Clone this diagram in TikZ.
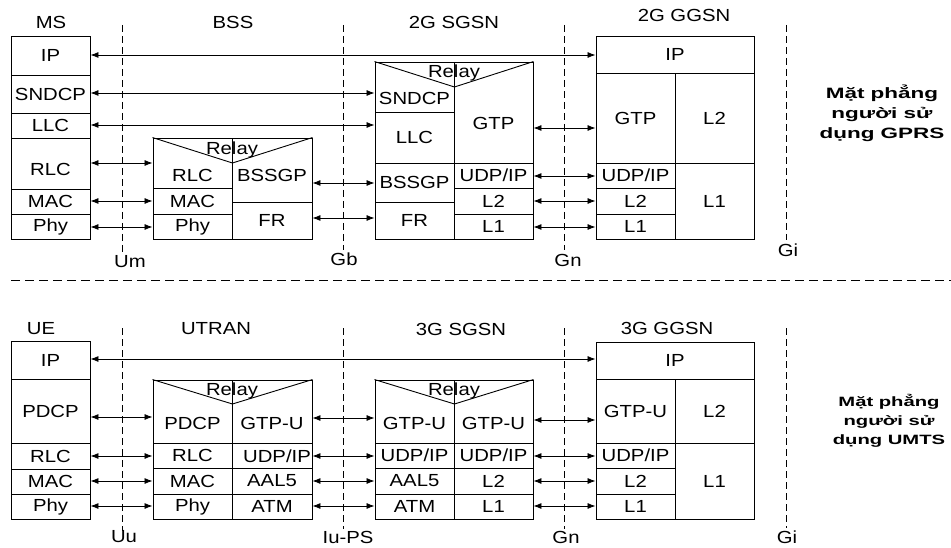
\documentclass[tikz,border=0pt]{standalone}
\usepackage{fontspec}
\setmainfont{Liberation Sans}[FakeStretch=1.16]
\newfontfamily\sidefont{Liberation Sans}[FakeStretch=1.5]
\usetikzlibrary{arrows.meta}
\newcommand{\cellbox}[6]{\node[cell, minimum width={#4-#2}, minimum height={#5-#3}] (#1) at ({(#2+#4)/2},{(#3+#5)/2}) {#6};}
\begin{document}
\begin{tikzpicture}[x=1pt,y=-1pt, line width=0.9pt,
  txt/.style={font=\fontsize{17.5}{20}\selectfont, inner sep=0pt},
  cell/.style={draw, txt, anchor=center},
  conn/.style={{Latex[length=8pt,width=6pt]}-{Latex[length=8pt,width=6pt]}, line width=0.8pt},
  iface/.style={dash pattern=on 7pt off 4pt, line width=0.7pt},
  sepline/.style={dash pattern=on 9pt off 5pt, line width=0.8pt},
  side/.style={font=\sidefont\bfseries\fontsize{15}{20}\selectfont, align=center, inner sep=0pt},
  sideb/.style={font=\sidefont\bfseries\fontsize{13.5}{19}\selectfont, align=center, inner sep=0pt}
]
\useasboundingbox (0,0) rectangle (951,548);

% ---------- interface lines (top) ----------
\coordinate (umt) at (122,25);  \coordinate (umb) at (122,252);
\coordinate (gbt) at (343,25);  \coordinate (gbb) at (343,250);
\coordinate (gnt) at (564,25);  \coordinate (gnb) at (564,250);
\coordinate (git) at (786,25);  \coordinate (gib) at (786,240);
\draw[iface] (umt) -- (umb);
\draw[iface] (gbt) -- (gbb);
\draw[iface] (gnt) -- (gnb);
\draw[iface] (git) -- (gib);
\node[txt] (lum) at (130,262) {Um};
\node[txt] (lgb) at (344,259) {Gb};
\node[txt] (lgn) at (568,260) {Gn};
\node[txt] (lgi) at (788,250) {Gi};

% ---------- separator ----------
\coordinate (sepl) at (11,280); \coordinate (sepr) at (951,280);
\draw[sepline] (sepl) -- (sepr);

% ---------- interface lines (bottom) ----------
\coordinate (uut) at (122,328);  \coordinate (uub) at (122,531);
\coordinate (iut) at (343,328);  \coordinate (iub) at (343,529);
\coordinate (gn2t) at (564,328); \coordinate (gn2b) at (564,529);
\coordinate (gi2t) at (786,328); \coordinate (gi2b) at (786,528);
\draw[iface] (uut) -- (uub);
\draw[iface] (iut) -- (iub);
\draw[iface] (gn2t) -- (gn2b);
\draw[iface] (gi2t) -- (gi2b);
\node[txt] (luu) at (124,537) {Uu};
\node[txt] (liu) at (348,537) {Iu-PS};
\node[txt] (lgn2) at (566,537) {Gn};
\node[txt] (lgi2) at (787,537) {Gi};

% ---------- titles ----------
\node[txt] (tms) at (51,22) {MS};
\node[txt] (tbss) at (233,22) {BSS};
\node[txt] (tsg2) at (454,22) {2G SGSN};
\node[txt] (tgg2) at (684,15) {2G GGSN};
\node[txt] (tue) at (41,329) {UE};
\node[txt] (tut) at (216,329) {UTRAN};
\node[txt] (tsg3) at (461,329) {3G SGSN};
\node[txt] (tgg3) at (667,328) {3G GGSN};

% ---------- MS ----------
\cellbox{msip}{11}{36}{90}{75}{IP}
\cellbox{mssn}{11}{75}{90}{113}{SNDCP}
\cellbox{msllc}{11}{113}{90}{138}{LLC}
\cellbox{msrlc}{11}{138}{90}{189}{}
\cellbox{msmac}{11}{189}{90}{214}{MAC}
\cellbox{msphy}{11}{214}{90}{239}{Phy}
\node[txt] (msrlct) at (50.5,169) {RLC};

% ---------- BSS ----------
\cellbox{bssrlc}{153}{138}{232}{188}{}
\cellbox{bssmac}{153}{188}{232}{214}{MAC}
\cellbox{bssphy}{153}{214}{232}{239}{Phy}
\cellbox{bssgp}{232}{138}{312}{202}{}
\cellbox{bssfr}{232}{202}{312}{239}{FR}
\draw (bssrlc.north west) -- (bssrlc.east |- 0,163) -- (bssgp.north east);
\node[txt] (bssrelay) at (232,150) {Relay};
\node[txt] (bssrlct) at (192.5,175) {RLC};
\node[txt] (bssgpt) at (272,175) {BSSGP};

% ---------- 2G SGSN ----------
\cellbox{sgsn}{375}{62}{454}{112}{}
\cellbox{sgllc}{375}{112}{454}{163}{LLC}
\cellbox{sgbssgp}{375}{163}{454}{202}{BSSGP}
\cellbox{sgfr}{375}{202}{454}{239}{FR}
\cellbox{sggtp}{454}{62}{533}{163}{}
\cellbox{sgudp}{454}{163}{533}{188}{UDP/IP}
\cellbox{sgl2}{454}{188}{533}{214}{L2}
\cellbox{sgl1}{454}{214}{533}{239}{L1}
\draw (sgsn.north west) -- (sgsn.east |- 0,87) -- (sggtp.north east);
\node[txt] (sgrelay) at (454,73) {Relay};
\node[txt] (sgsnt) at (414.5,98) {SNDCP};
\node[txt] (sggtpt) at (493.5,123) {GTP};

% ---------- 2G GGSN ----------
\cellbox{ggip}{596}{36}{754}{73}{IP}
\cellbox{gggtp}{596}{73}{675}{163}{GTP}
\cellbox{ggl2r}{675}{73}{754}{163}{L2}
\cellbox{ggudp}{596}{163}{675}{188}{UDP/IP}
\cellbox{ggl2}{596}{188}{675}{214}{L2}
\cellbox{ggl1}{596}{214}{675}{239}{L1}
\cellbox{ggl1r}{675}{163}{754}{239}{L1}

% ---------- arrows (top) ----------
\draw[conn] (msip.east |- 0,55) -- (ggip.west |- 0,55);
\draw[conn] (mssn.east |- 0,93) -- (sgsn.west |- 0,93);
\draw[conn] (msllc.east |- 0,125) -- (sgllc.west |- 0,125);
\draw[conn] (msrlc.east |- 0,163) -- (bssrlc.west |- 0,163);
\draw[conn] (msmac.east |- 0,201) -- (bssmac.west |- 0,201);
\draw[conn] (msphy.east |- 0,227) -- (bssphy.west |- 0,227);
\draw[conn] (bssgp.east |- 0,183) -- (sgbssgp.west |- 0,183);
\draw[conn] (bssfr.east |- 0,218) -- (sgfr.west |- 0,218);
\draw[conn] (sggtp.east |- 0,128) -- (gggtp.west |- 0,128);
\draw[conn] (sgudp.east |- 0,176) -- (ggudp.west |- 0,176);
\draw[conn] (sgl2.east |- 0,201) -- (ggl2.west |- 0,201);
\draw[conn] (sgl1.east |- 0,227) -- (ggl1.west |- 0,227);

% ---------- UE ----------
\cellbox{ueip}{11}{341}{90}{379}{IP}
\cellbox{uepdcp}{11}{379}{90}{443}{PDCP}
\cellbox{uerlc}{11}{443}{90}{469}{RLC}
\cellbox{uemac}{11}{469}{90}{494}{MAC}
\cellbox{uephy}{11}{494}{90}{519}{Phy}

% ---------- UTRAN ----------
\cellbox{utpdcp}{153}{380}{232}{443}{}
\cellbox{utgtp}{232}{380}{312}{443}{}
\cellbox{utrlc}{153}{443}{232}{468}{RLC}
\cellbox{utudp}{232}{443}{312}{468}{}
\cellbox{utmac}{153}{468}{232}{494}{MAC}
\cellbox{utaal}{232}{468}{312}{494}{AAL5}
\cellbox{utphy}{153}{494}{232}{519}{Phy}
\cellbox{utatm}{232}{494}{312}{519}{ATM}
\draw (utpdcp.north west) -- (utpdcp.east |- 0,404) -- (utgtp.north east);
\node[txt] (utrelay) at (232,391) {Relay};
\node[txt] (utpdcpt) at (192.5,423) {PDCP};
\node[txt] (utgtpt) at (272,423) {GTP-U};
\node[txt] (utudpt) at (277,456) {UDP/IP};

% ---------- 3G SGSN ----------
\cellbox{s3gtpl}{375}{380}{454}{443}{}
\cellbox{s3gtpr}{454}{380}{533}{443}{}
\cellbox{s3udpl}{375}{443}{454}{468}{UDP/IP}
\cellbox{s3udpr}{454}{443}{533}{468}{UDP/IP}
\cellbox{s3aal}{375}{468}{454}{494}{AAL5}
\cellbox{s3l2}{454}{468}{533}{494}{L2}
\cellbox{s3atm}{375}{494}{454}{519}{ATM}
\cellbox{s3l1}{454}{494}{533}{519}{L1}
\draw (s3gtpl.north west) -- (s3gtpl.east |- 0,404) -- (s3gtpr.north east);
\node[txt] (s3relay) at (454,391) {Relay};
\node[txt] (s3gtplt) at (414.5,423) {GTP-U};
\node[txt] (s3gtprt) at (493.5,423) {GTP-U};

% ---------- 3G GGSN ----------
\cellbox{g3ip}{596}{342}{754}{379}{IP}
\cellbox{g3gtp}{596}{379}{675}{443}{GTP-U}
\cellbox{g3l2r}{675}{379}{754}{443}{L2}
\cellbox{g3udp}{596}{443}{675}{468}{UDP/IP}
\cellbox{g3l2}{596}{468}{675}{494}{L2}
\cellbox{g3l1}{596}{494}{675}{519}{L1}
\cellbox{g3l1r}{675}{443}{754}{519}{L1}

% ---------- arrows (bottom) ----------
\draw[conn] (ueip.east |- 0,359) -- (g3ip.west |- 0,359);
\draw[conn] (uepdcp.east |- 0,417) -- (utpdcp.west |- 0,417);
\draw[conn] (uerlc.east |- 0,456) -- (utrlc.west |- 0,456);
\draw[conn] (uemac.east |- 0,481) -- (utmac.west |- 0,481);
\draw[conn] (uephy.east |- 0,506) -- (utphy.west |- 0,506);
\draw[conn] (utgtp.east |- 0,418) -- (s3gtpl.west |- 0,418);
\draw[conn] (utudp.east |- 0,456) -- (s3udpl.west |- 0,456);
\draw[conn] (utaal.east |- 0,481) -- (s3aal.west |- 0,481);
\draw[conn] (utatm.east |- 0,506) -- (s3atm.west |- 0,506);
\draw[conn] (s3gtpr.east |- 0,420) -- (g3gtp.west |- 0,420);
\draw[conn] (s3udpr.east |- 0,456) -- (g3udp.west |- 0,456);
\draw[conn] (s3l2.east |- 0,481) -- (g3l2.west |- 0,481);
\draw[conn] (s3l1.east |- 0,506) -- (g3l1.west |- 0,506);

% ---------- side texts ----------
\node[side] (gprs) at (882,113) {Mặt phẳng\\người sử\\dụng GPRS};
\node[sideb] (umts) at (889,421) {Mặt phẳng\\người sử\\dụng UMTS};
\end{tikzpicture}
\end{document}
